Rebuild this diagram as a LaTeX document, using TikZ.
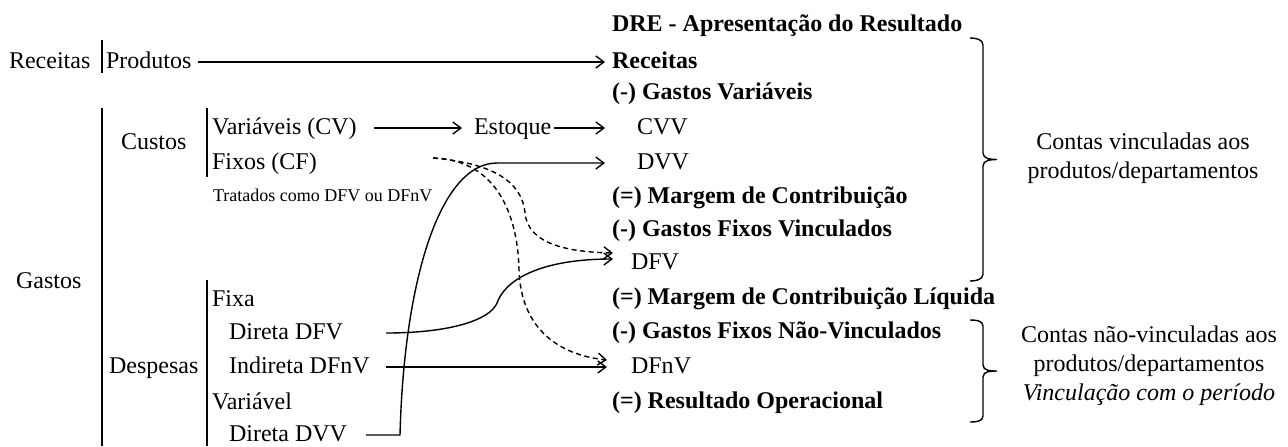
\documentclass[tikz,border=0pt]{standalone}
\usepackage{fontspec}
\setmainfont{Liberation Serif}
\usetikzlibrary{arrows.meta}
\tikzset{%
	txt/.style={
		anchor=west,
		font=\fontsize{12}{14}\selectfont,
		text height=8.5pt,
		text depth=2.5pt
	},
	dre item/.style={
		txt,
		font=\fontsize{12}{14}\selectfont\bfseries
	},
	small txt/.style={
		anchor=west,
		font=\fontsize{9}{11}\selectfont
	},
	note/.style={
		align=center,
		font=\fontsize{12}{14.5}\selectfont
	},
	bar/.style={line width=0.7pt},
	flow/.style={
		line width=0.7pt,
		-{Straight Barb[length=4pt,width=6pt]}
	},
	flow dashed/.style={
		flow,
		dash pattern=on 2.5pt off 1.8pt
	},
}
\begin{document}
\begin{tikzpicture}[x=0.5pt,y=-0.5pt]
			\fill[white] (0,0) rectangle (1288,446);
			\useasboundingbox (0,0) rectangle (1288,446);
			
			% lado esquerdo
			\node[txt] (recL) at (2,62) {Receitas};
			\node[txt] (prod) at (99,62) {Produtos};
			\draw[bar] (102,40) -- (102,73);
			
			\node[txt] (gastos) at (9,282) {Gastos};
			\draw[bar] (102,108) -- (102,446);
			
			\node[txt] (custos) at (114,143) {Custos};
			\draw[bar] (207,108) -- (207,177);
			\node[txt] (cv) at (205,128) {Variáveis (CV)};
			\node[txt] (cf) at (205,163) {Fixos (CF)};
			\node[small txt] (trat) at (206,195) {Tratados como DFV ou DFnV};
			\node[txt] (est) at (467,128) {Estoque};
			\coordinate (cfout) at (433,158);
			
			\node[txt] (desp) at (102,367) {Despesas};
			\draw[bar] (207,280) -- (207,446);
			\node[txt] (fixa) at (205,300) {Fixa};
			\node[txt] (dfvL) at (222,333) {Direta DFV};
			\node[txt] (dfnvL) at (222,367) {Indireta DFnV};
			\node[txt] (varv) at (205,403) {Variável};
			\node[txt] (dvvL) at (222,435) {Direta DVV};
			
			% DRE
			\node[dre item] (dre) at (605,25) {DRE - Apresentação do Resultado};
			\node[dre item] (rec) at (605,62) {Receitas};
			\node[dre item] (gv) at (605,93) {(-) Gastos Variáveis};
			\node[txt] (cvv) at (630,128) {CVV};
			\node[txt] (dvv) at (630,163) {DVV};
			\node[dre item] (mc) at (605,197) {(=) Margem de Contribuição};
			\node[dre item] (gfv) at (605,230) {(-) Gastos Fixos Vinculados};
			\node[txt] (dfv) at (624,263) {DFV};
			\node[dre item] (mcl) at (605,298) {(=) Margem de Contribuição Líquida};
			\node[dre item] (gfnv) at (605,332) {(-) Gastos Fixos Não-Vinculados};
			\node[txt] (dfnv) at (624,367) {DFnV};
			\node[dre item] (ro) at (605,402) {(=) Resultado Operacional};
			
			% chaves
			\draw[bar] (970,38) to[out=0,in=90] (983,45) -- (983,153)
				to[out=-90,in=180] (997,159.5) to[out=180,in=90] (983,166)
				-- (983,274) to[out=-90,in=0] (970,281);
			\draw[bar] (970,320) to[out=0,in=90] (983,326) -- (983,365)
				to[out=-90,in=180] (997,371) to[out=180,in=90] (983,377)
				-- (983,416) to[out=-90,in=0] (970,422);
			\node[note] (nota1) at (1143,158) {Contas vinculadas aos\\produtos/departamentos};
			\node[note] (nota2) at (1149,366) {Contas não-vinculadas aos\\produtos/departamentos\\\textit{Vinculação com o período}};
			
			% setas
			\draw[flow] (prod.east) -- (rec.west);
			\draw[flow] ([xshift=5pt]cv.east) -- ([xshift=-2.5pt]est.west);
			\draw[flow] ([xshift=-2pt]est.east) -- ([xshift=-12.5pt]cvv.west);
			\draw[flow] ([xshift=6pt]dvvL.east) -- (400,435)
				.. controls (404,280) and (440,163) .. (497,163)
				-- ([xshift=-12.5pt]dvv.west);
			\draw[flow] ([xshift=18pt]dfvL.east)
				.. controls (450,333) and (490,320) .. (497,303)
				.. controls (505,280) and (540,259) .. ([xshift=-5.5pt,yshift=2pt]dfv.west);
			\draw[flow] ([xshift=4.5pt]dfnvL.east) -- ([xshift=-8.5pt]dfnv.west);
			\draw[flow dashed] (cfout)
				.. controls (490,163) and (522,180) .. (525,213)
				.. controls (528,245) and (570,252) .. ([xshift=-5.5pt,yshift=5pt]dfv.west);
			\draw[flow dashed] (cfout)
				.. controls (500,160) and (518,220) .. (519,270)
				.. controls (521,330) and (560,355) .. ([xshift=-8.5pt,yshift=3.5pt]dfnv.west);
		\end{tikzpicture}
\end{document}
